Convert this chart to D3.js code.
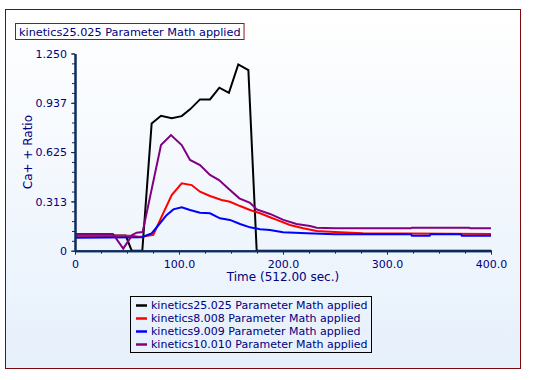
<!DOCTYPE html>
<html><head><meta charset="utf-8">
<script src="https://cdn.jsdelivr.net/npm/d3@7"></script>
<style>html,body{margin:0;padding:0;background:#fff;}svg{display:block;}</style>
</head><body>
<script>
const titleText = "kinetics25.025 Parameter Math applied";
const xLabel = "Time (512.00 sec.)";
const yLabel = "Ca+ + Ratio";
const xTickValues = [0, 100, 200, 300, 400];
const xTickLabels = ["0", "100.0", "200.0", "300.0", "400.0"];
const yTickValues = [0, 0.3125, 0.625, 0.9375, 1.25];
const yTickLabels = ["0", "0.313", "0.625", "0.937", "1.250"];
const seriesNames = ["kinetics25.025 Parameter Math applied", "kinetics8.008 Parameter Math applied", "kinetics9.009 Parameter Math applied", "kinetics10.010 Parameter Math applied"];
const seriesColors = ["#000000", "#ff0000", "#0000ff", "#800080"];

const blackT = [0, 48.7, 54.5, 64.7, 73.7, 82.7, 93, 102.6, 110.6, 120.2, 129.8, 138.8, 148, 157, 166.7, 174.7, 400];
const blackV = [0.097, 0.097, 0, 0, 0.807, 0.855, 0.839, 0.853, 0.896, 0.959, 0.959, 1.033, 1.001, 1.181, 1.145, 0, 0];

const redT = [0, 54, 60, 64, 75.3, 83.3, 93, 102.6, 112.2, 120.2, 129.8, 141, 149, 158.7, 168.3, 178, 187.5, 194, 206.7, 219.5, 232.4, 250, 277, 400];
const redV = [0.095, 0.095, 0.09, 0.089, 0.1, 0.216, 0.353, 0.427, 0.416, 0.374, 0.347, 0.321, 0.31, 0.283, 0.258, 0.237, 0.212, 0.195, 0.163, 0.142, 0.125, 0.118, 0.11, 0.106];

const blueT = [0, 64, 73.7, 81.7, 88, 94.6, 102.6, 110.6, 120.2, 129.8, 139.4, 149, 158.7, 168.3, 178, 187.5, 200, 222.8, 250, 323, 324, 341, 342, 371, 372, 400];
const blueV = [0.082, 0.085, 0.11, 0.174, 0.225, 0.262, 0.275, 0.258, 0.241, 0.237, 0.205, 0.195, 0.169, 0.148, 0.136, 0.131, 0.117, 0.11, 0.104, 0.104, 0.095, 0.095, 0.104, 0.104, 0.095, 0.095];

const purpleT = [0, 36.5, 46.4, 55, 59.3, 65, 82.7, 92.3, 102.6, 110.6, 120.2, 129.8, 138.5, 147.4, 158, 168.3, 174.7, 187.5, 200.3, 213, 226, 232.4, 250, 323, 324, 379, 380, 400];
const purpleV = [0.106, 0.106, 0.013, 0.1, 0.114, 0.118, 0.67, 0.733, 0.67, 0.575, 0.543, 0.48, 0.448, 0.395, 0.332, 0.304, 0.262, 0.233, 0.195, 0.169, 0.157, 0.146, 0.142, 0.142, 0.146, 0.146, 0.142, 0.142];

const seriesT = [blackT, redT, blueT, purpleT];
const seriesV = [blackV, redV, blueV, purpleV];

const W = 533, H = 380;
const FONT = "'DejaVu Sans', Verdana, sans-serif";
const NAVY = "#000080";
const AXIS = "#0d2d5c";

const svg = d3.select("body").append("svg").attr("width", W).attr("height", H);
const defs = svg.append("defs");
const grad = defs.append("linearGradient").attr("id", "bg").attr("x1", 0).attr("y1", 0).attr("x2", 0).attr("y2", 1);
grad.append("stop").attr("offset", "0%").attr("stop-color", "#ffffff");
grad.append("stop").attr("offset", "100%").attr("stop-color", "#e6f0fb");

svg.append("rect").attr("x", 5.5).attr("y", 9.5).attr("width", 515).attr("height", 359)
  .attr("fill", "url(#bg)").attr("stroke", "#7a0a0a").attr("stroke-width", 1);

// title box
const tg = svg.append("g");
const tt = tg.append("text").attr("x", 19).attr("y", 36).attr("font-family", FONT).attr("font-size", 11.25)
  .attr("fill", NAVY).text(titleText);
const tw = tt.node().getComputedTextLength();
tg.insert("rect", "text").attr("x", 15.5).attr("y", 23.5).attr("width", tw + 7).attr("height", 16)
  .attr("fill", "none").attr("stroke", "#a01010").attr("stroke-width", 1);

const x = d3.scaleLinear().domain([0, 400]).range([75, 491]);
const y = d3.scaleLinear().domain([0, 1.25]).range([250.7, 53.5]);

// lines
const line = d3.line().x(d => x(d[0])).y(d => y(d[1]));
const order = [0, 1, 2, 3];
svg.append("g").selectAll("path").data(order).join("path")
  .attr("d", i => line(seriesT[i].map((t, k) => [t, seriesV[i][k]])))
  .attr("fill", "none").attr("stroke", i => seriesColors[i]).attr("stroke-width", 2)
  .attr("stroke-linejoin", "miter");

// axes
const xMinor = d3.range(0, 401, 25);
const yMinor = d3.range(0, 1.2501, 0.0625);
const xAxis = d3.axisBottom(x).tickValues(xTickValues).tickFormat((d, i) => xTickLabels[i]).tickSize(4).tickSizeOuter(0);
const yAxis = d3.axisLeft(y).tickValues(yTickValues).tickFormat((d, i) => yTickLabels[i]).tickSize(4).tickSizeOuter(0);
const xMinorAxis = d3.axisBottom(x).tickValues(xMinor).tickFormat("").tickSize(3).tickSizeOuter(0);
const yMinorAxis = d3.axisLeft(y).tickValues(yMinor).tickFormat("").tickSize(3).tickSizeOuter(0);

function style(g) {
  g.selectAll(".domain").attr("stroke", AXIS).attr("stroke-width", 2);
  g.selectAll(".tick line").attr("stroke", AXIS).attr("stroke-width", 1);
  g.selectAll(".tick text").attr("fill", NAVY).attr("font-family", FONT).attr("font-size", 11);
}
svg.append("g").attr("transform", `translate(0,${y(0)})`).call(xMinorAxis).call(style);
svg.append("g").attr("transform", `translate(${x(0)},0)`).call(yMinorAxis).call(style);
const gx = svg.append("g").attr("transform", `translate(0,${y(0)})`).call(xAxis).call(style);
const gy = svg.append("g").attr("transform", `translate(${x(0)},0)`).call(yAxis).call(style);
gx.selectAll(".tick text").attr("dy", "0.9em");
gy.selectAll(".tick text").attr("dx", "-1px").attr("dy", "0.35em");

svg.append("text").attr("x", (x(0) + x(400)) / 2).attr("y", 281).attr("text-anchor", "middle")
  .attr("font-family", FONT).attr("font-size", 12).attr("fill", NAVY).text(xLabel);
svg.append("text").attr("transform", `translate(32,${(y(0) + y(1.25)) / 2}) rotate(-90)`).attr("text-anchor", "middle")
  .attr("font-family", FONT).attr("font-size", 12).attr("fill", NAVY).text(yLabel);

// legend
const lg = svg.append("g");
lg.append("rect").attr("x", 130.5).attr("y", 296.5).attr("width", 241).attr("height", 56)
  .attr("fill", "none").attr("stroke", "#000").attr("stroke-width", 1);
const items = lg.selectAll("g.it").data(seriesNames).join("g").attr("class", "it")
  .attr("transform", (d, i) => `translate(0,${305.5 + i * 13})`);
items.append("line").attr("x1", 136).attr("x2", 147).attr("y1", 0).attr("y2", 0)
  .attr("stroke", (d, i) => seriesColors[i]).attr("stroke-width", 2.5);
items.append("text").attr("x", 151).attr("y", 0).attr("dy", "0.36em").attr("font-family", FONT).attr("font-size", 11)
  .attr("fill", NAVY).text(d => d);
</script>
</body></html>
